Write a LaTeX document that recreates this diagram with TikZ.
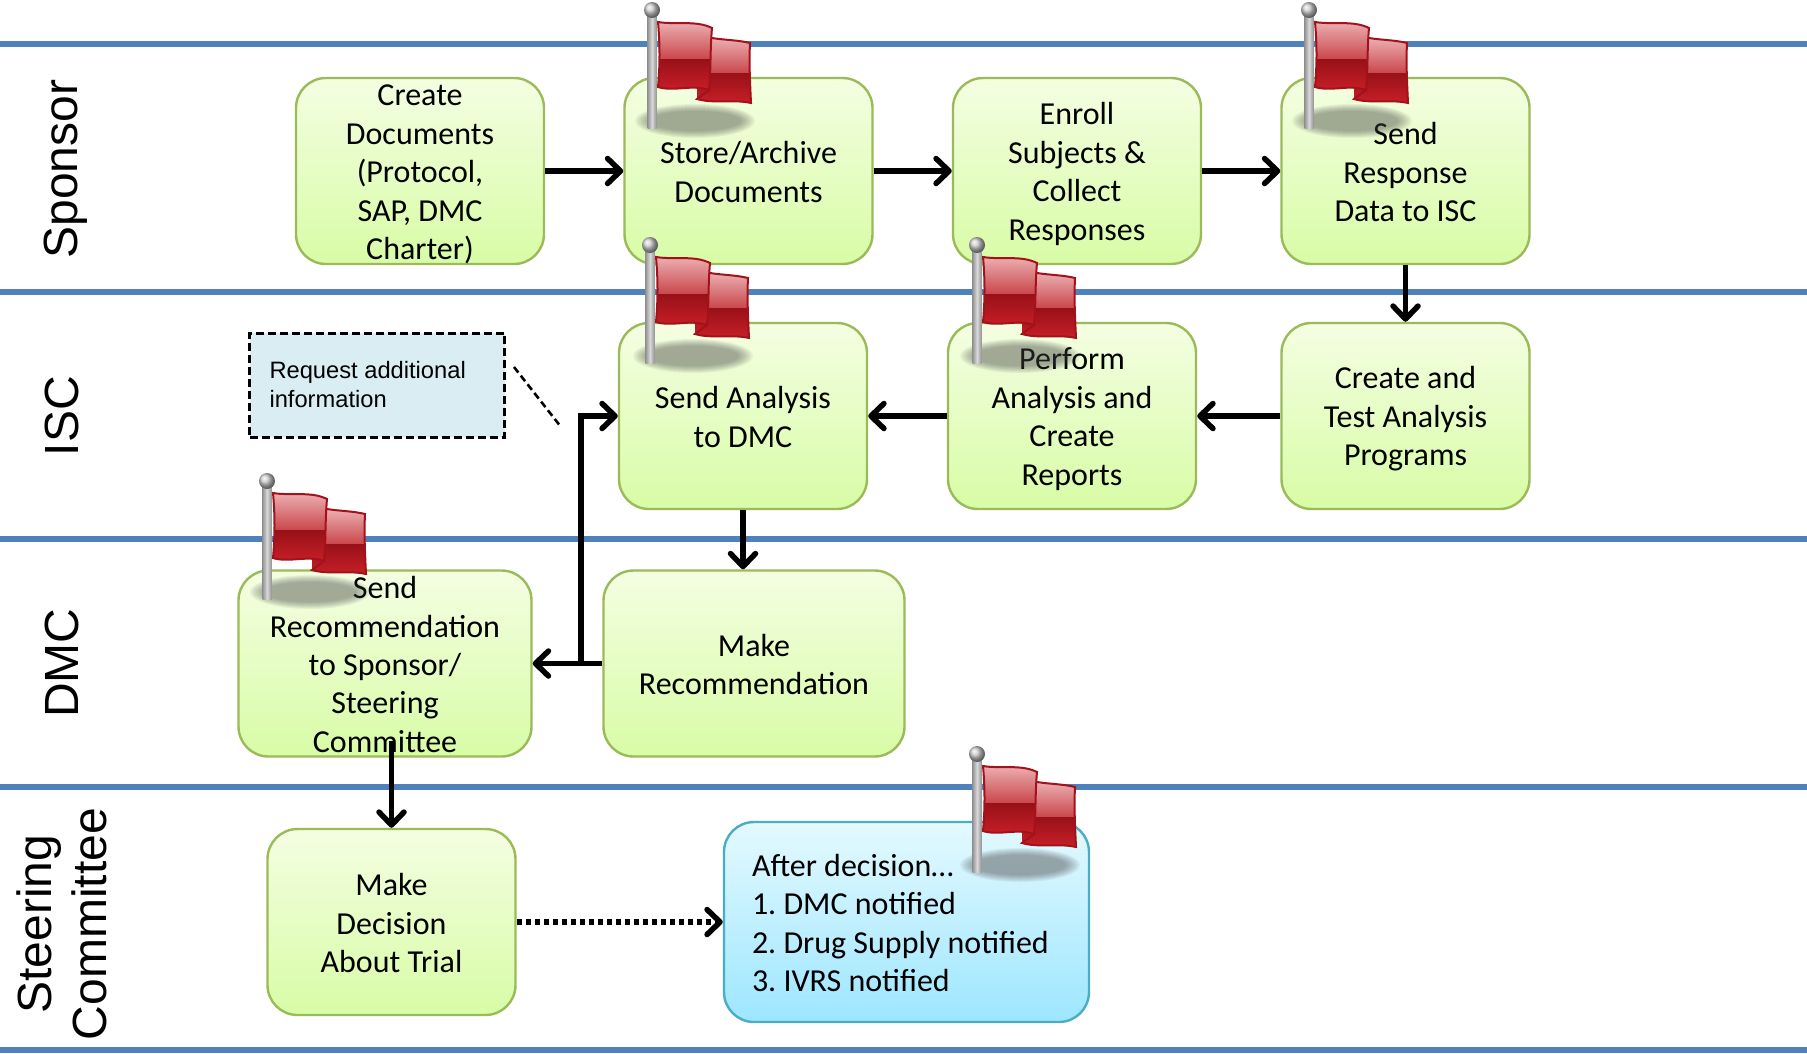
\documentclass[tikz,border=0pt]{standalone}
\usepackage{fontspec}
\setmainfont{Carlito}
\newfontfamily\arialf{Liberation Sans}
\usetikzlibrary{arrows.meta,shadings}
\definecolor{lanec}{HTML}{4F81BD}
\definecolor{gborder}{HTML}{9BBB59}
\definecolor{gtop}{HTML}{F4FEE2}
\definecolor{gbot}{HTML}{D8FCA6}
\definecolor{btop}{HTML}{E4F9FF}
\definecolor{bbot}{HTML}{9DE6FF}
\definecolor{bborder}{HTML}{4BACC6}
\definecolor{noteC}{HTML}{DAEDF3}
\definecolor{flagA}{HTML}{EDB4B6}
\definecolor{flagB}{HTML}{C9474C}
\definecolor{flagC}{HTML}{981118}
\definecolor{flagD}{HTML}{CC2029}
\definecolor{flagE}{HTML}{A3111A}
\newcommand{\boxstruta}{\rule{0pt}{28pt}}
\newcommand{\boxstrutb}{\rule[-4pt]{0pt}{4pt}}
\tikzset{
  lane/.style={draw=lanec,line width=6pt},
  greenbox/.style={rectangle,rounded corners=30pt,draw=gborder,line width=2.4pt,top color=gtop,bottom color=gbot,
     align=flush center,inner sep=0pt,minimum width=#1,text width=#1,minimum height=186pt,
     font=\frenchspacing\fontsize{32}{38.4}\selectfont,
     execute at begin node=\boxstruta,execute at end node=\boxstrutb},
  greenbox/.default=248pt,
  bluebox/.style={rectangle,rounded corners=30pt,draw=bborder,line width=2.4pt,top color=btop,bottom color=bbot,
     align=flush left,inner ysep=0pt,inner xsep=28pt,font=\frenchspacing\fontsize{32}{38.4}\selectfont,
     execute at begin node=\boxstruta,execute at end node=\boxstrutb},
  notebox/.style={rectangle,draw=black,line width=3pt,dash pattern=on 8pt off 4pt,fill=noteC,align=flush left,
     inner ysep=0pt,inner xsep=20pt,font=\arialf\fontsize{23.7}{29}\selectfont},
  lanelabel/.style={rotate=90,align=center,inner sep=0pt,font=\arialf\fontsize{48}{55}\selectfont},
  flow/.style={draw=black,line width=5.5pt,-{Straight Barb[length=13pt,width=25pt,line width=5.5pt,round]}},
  flowdot/.style={flow,dash pattern=on 5pt off 4pt},
  hint/.style={draw=black,line width=2.6pt,dash pattern=on 7pt off 4pt},
  redflag/.pic={
    % shadow
    \foreach \r/\q in {60/17,58/16,56/15,54/14,52/13,50/12,48/11,46/10}{\fill[black!45!gray,opacity=.07] (43,111) ellipse ({\r pt} and {\q pt});}
    % back panel
    \begin{scope}
      \clip (60,28) .. controls (72,30) and (86,30) .. (98,33) .. controls (97,52) and (98,72) .. (99,93)
        .. controls (82,89) and (62,94) .. (45,89) -- (45,28) -- cycle;
      \shade[top color=flagA,bottom color=flagB] (40,26) rectangle (102,63);
      \shade[top color=flagC,bottom color=flagD] (40,63) rectangle (102,96);
    \end{scope}
    \draw[draw=flagE,line width=2pt] (60,28) .. controls (72,30) and (86,30) .. (98,33) .. controls (97,52) and (98,72) .. (99,93)
        .. controls (82,89) and (62,94) .. (45,89) -- (57,80);
    % front panel
    \begin{scope}
      \clip (6,12) .. controls (24,15) and (44,10) .. (60,18) .. controls (58,40) and (59,60) .. (57,80)
        .. controls (40,74) and (22,82) .. (6,77) .. controls (8,55) and (8,34) .. (6,12) -- cycle;
      \shade[top color=flagA,bottom color=flagB] (2,10) rectangle (64,49);
      \shade[top color=flagC,bottom color=flagD] (2,49) rectangle (64,84);
    \end{scope}
    \draw[draw=flagE,line width=2pt] (6,12) .. controls (24,15) and (44,10) .. (60,18) .. controls (58,40) and (59,60) .. (57,80)
        .. controls (40,74) and (22,82) .. (6,77) .. controls (8,55) and (8,34) .. (6,12) -- cycle;
    % pole
    \shade[left color=black!42,right color=black!42,middle color=black!15] (-4.5,5) rectangle (4.5,118);
    \shade[ball color=black!20] (0,0) circle (8pt);
  }
}
\begin{document}
\begin{tikzpicture}[x=1pt,y=-1pt]
\useasboundingbox (0,0) rectangle (1807,1053);
% swim lanes
\draw[lane] (0,44) -- (1807,44);
\draw[lane] (0,292) -- (1807,292);
\draw[lane] (0,539) -- (1807,539);
\draw[lane] (0,787) -- (1807,787);
\draw[lane] (0,1050) -- (1807,1050);
% lane labels
\node[lanelabel] (lsponsor) at (66,169) {Sponsor};
\node[lanelabel] (lisc) at (62,416) {ISC};
\node[lanelabel] (ldmc) at (62,663) {DMC};
\node[lanelabel] (lsteer) at (62,924) {Steering\\Committee};
% boxes
\node[greenbox] (create) at (420,171) {Create\\Documents\\(Protocol,\\SAP, DMC\\Charter)};
\node[greenbox] (store) at (748.5,171) {Store/Archive\\Documents};
\node[greenbox] (enroll) at (1077,171) {Enroll\\Subjects \&\\Collect\\Responses};
\node[greenbox] (sendresp) at (1405.5,171) {Send\\Response\\Data to ISC};
\node[greenbox] (testprog) at (1405.5,416) {Create and\\Test Analysis\\Programs};
\node[greenbox] (perform) at (1072,416) {Perform\\Analysis and\\Create\\Reports};
\node[greenbox] (sendana) at (743,416) {Send Analysis\\to DMC};
\node[greenbox=293pt] (sendrec) at (385,663.5) {Send\\Recommendation\\to Sponsor/\\Steering\\Committee};
\node[greenbox=301pt] (makerec) at (754,663.5) {Make\\Recommendation};
\node[greenbox] (decide) at (391.5,922) {Make\\Decision\\About Trial};
\node[bluebox,text width=309pt,minimum height=200pt] (after) at (906.5,922) {After decision…\\1. DMC notified\\2. Drug Supply notified\\3. IVRS notified};
\node[notebox,text width=215pt,minimum height=104pt] (note) at (377,385) {Request additional\\information};
% connectors
\draw[flow] (create.east) -- (store.west);
\draw[flow] (store.east) -- (enroll.west);
\draw[flow] (enroll.east) -- (sendresp.west);
\draw[flow] (sendresp.south) -- (testprog.north);
\draw[flow] (testprog.west) -- (perform.east);
\draw[flow] (perform.west) -- (sendana.east);
\draw[flow] (sendana.south) -- (sendana.south |- makerec.north);
\draw[flow] (makerec.west) -- (sendrec.east);
\coordinate (branch) at (581,663.5);
\draw[flow] (branch) -- (branch |- sendana.west) -- (sendana.west);
\coordinate (recout) at (391.5,741);
\draw[flow] (recout) -- (decide.north);
\draw[flowdot] (decide.east) -- (after.west);
\coordinate (hinta) at (514,367);
\coordinate (hintb) at (561,427);
\draw[hint] (hinta) -- (hintb);
% flags
\pic (f1) at (652,10) {redflag};
\pic (f2) at (1309,10) {redflag};
\pic (f3) at (650,245) {redflag};
\pic (f4) at (977,245) {redflag};
\pic (f5) at (267,481) {redflag};
\pic (f6) at (977,754) {redflag};
\end{tikzpicture}
\end{document}
